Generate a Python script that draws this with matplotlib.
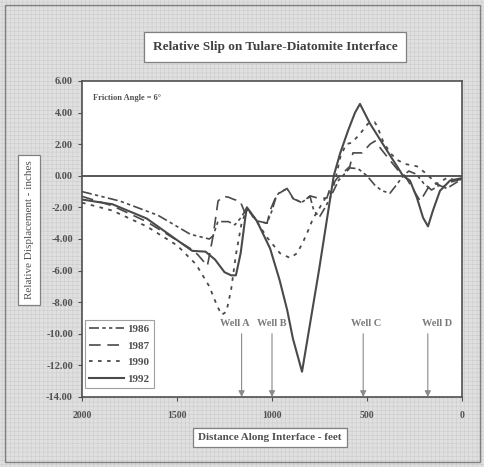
import matplotlib.pyplot as plt
from matplotlib.patches import Rectangle

plt.rcParams['font.family'] = ['Liberation Serif', 'DejaVu Serif']
plt.rcParams['hatch.linewidth'] = 0.4

# distance along interface (ft) and relative displacement (in)
x_1986 = [2000, 1800, 1600, 1430, 1330, 1310, 1285, 1230, 1195, 1160, 1132,
          1080, 1026, 1000, 980, 965, 920, 890, 845, 800, 780, 750, 720, 690,
          650, 590, 547, 500, 458, 421, 379, 340, 310, 280, 240, 200, 160,
          120, 80, 40, 0]
y_1986 = [-1.0, -1.6, -2.5, -3.7, -4.0, -3.8, -2.9, -2.9, -3.1, -2.6, -2.0,
          -2.85, -3.0, -2.2, -1.4, -1.1, -0.8, -1.4, -1.7, -1.3, -2.2, -2.6,
          -2.0, -1.3, -0.3, 0.5, 0.45, 0.0, -0.6, -0.95, -1.1, -0.5, 0.0, 0.3,
          0.1, -0.5, -0.9, -0.6, -0.8, -0.5, -0.2]

x_1987 = [2000, 1840, 1660, 1430, 1390, 1340, 1310, 1284, 1258, 1230, 1200,
          1168, 1142, 1132, 1080, 1026, 1010, 984, 968, 921, 889, 842, 800,
          747, 711, 695, 660, 616, 590, 574, 526, 484, 458, 420, 380, 340,
          300, 260, 220, 200, 170, 140, 100, 60, 0]
y_1987 = [-1.3, -1.9, -2.9, -4.6, -5.0, -5.7, -3.8, -1.6, -1.3, -1.35, -1.5,
          -1.6, -2.35, -2.1, -2.85, -3.0, -2.2, -1.45, -1.15, -0.8, -1.45,
          -1.7, -1.27, -1.45, -1.4, -0.8, -0.2, 0.3, 0.6, 1.45, 1.45, 2.0,
          2.2, 1.6, 1.0, 0.4, 0.0, -0.8, -1.6, -1.2, -0.6, -0.5, -0.7, -0.4,
          -0.2]

x_1990 = [2000, 1840, 1660, 1500, 1400, 1330, 1290, 1265, 1240, 1215, 1190,
          1160, 1132, 1080, 1026, 958, 905, 868, 837, 811, 784, 758, 721,
          684, 668, 640, 610, 579, 537, 495, 460, 447, 416, 379, 340, 300,
          237, 195, 132, 74, 37, 0]
y_1990 = [-1.7, -2.2, -3.2, -4.4, -5.6, -7.0, -8.2, -8.8, -8.6, -7.2, -5.0,
          -3.0, -2.1, -2.9, -3.9, -4.9, -5.2, -4.9, -4.2, -3.5, -2.7, -2.2,
          -1.45, -0.95, -0.3, 1.2, 2.0, 2.1, 2.65, 3.3, 3.4, 3.15, 2.2, 1.45,
          1.0, 0.75, 0.6, 0.2, -0.5, -0.1, -0.3, -0.2]

x_1992 = [2000, 1840, 1660, 1420, 1350, 1300, 1250, 1215, 1190, 1165, 1140,
          1132, 1080, 1010, 960, 920, 890, 842, 753, 675, 642, 600, 563, 537,
          484, 395, 326, 311, 274, 237, 205, 179, 153, 116, 63, 0]
y_1992 = [-1.5, -1.8, -2.7, -4.75, -4.8, -5.3, -6.1, -6.3, -6.3, -4.9, -2.6,
          -2.0, -2.85, -4.6, -6.6, -8.5, -10.3, -12.4, -6.0, 0.0, 1.4, 2.85,
          4.0, 4.55, 3.3, 1.6, 0.3, 0.0, -0.3, -1.4, -2.65, -3.2, -2.2, -0.95,
          -0.3, -0.15]

wells = ['Well A', 'Well B', 'Well C', 'Well D']
well_x = [1160, 1000, 520, 180]

yticks = [6, 4, 2, 0, -2, -4, -6, -8, -10, -12, -14]
xticks = [2000, 1500, 1000, 500, 0]

line_col = '#4a4a4a'
text_col = '#505050'

fig = plt.figure(figsize=(4.84, 4.67), dpi=100)
fig.patch.set_facecolor('#e0e0e0')
bg = Rectangle((0, 0), 1, 1, transform=fig.transFigure, facecolor='#e0e0e0',
               edgecolor='#cccccc', hatch='++++', lw=0, zorder=-10)
fig.patches.append(bg)
fig.patches.append(Rectangle((5 / 484, 1 - 462 / 467), 475 / 484, 457 / 467,
                             transform=fig.transFigure, fill=False,
                             edgecolor='#808080', lw=1.0))

ax = fig.add_axes([82 / 484, 1 - 397 / 467, 380 / 484, 316 / 467])
ax.set_facecolor('white')

ax.plot(x_1986, y_1986, color=line_col, lw=1.2, dashes=(6, 2, 2, 2, 2, 2), label='1986')
ax.plot(x_1987, y_1987, color=line_col, lw=1.2, dashes=(7, 4), label='1987')
ax.plot(x_1990, y_1990, color=line_col, lw=1.3, dashes=(2, 3), label='1990')
ax.plot(x_1992, y_1992, color=line_col, lw=1.5, label='1992')
ax.axhline(0, color=line_col, lw=1.3)

ax.set_xlim(2000, 0)
ax.set_ylim(-14, 6)
ax.set_yticks(yticks)
ax.set_yticklabels(['%.2f' % v for v in yticks])
ax.set_xticks(xticks)
ax.set_xticklabels([str(v) for v in xticks])
ax.tick_params(axis='both', colors=text_col, length=3, width=0.8, direction='out')
ax.tick_params(axis='y', labelsize=7.5)
ax.tick_params(axis='x', labelsize=7, pad=7)
for lab in ax.get_xticklabels() + ax.get_yticklabels():
    lab.set_fontweight('bold')
for sp in ax.spines.values():
    sp.set_color('#505050')
    sp.set_linewidth(1.2)

# label nudges (points) so neighbouring well names do not collide
nudges = [-5, 0, 2, 7]
for name, wx, dx in zip(wells, well_x, nudges):
    ax.annotate('', xy=(wx, -14), xytext=(wx, -10.0),
                arrowprops=dict(arrowstyle='-|>', color='#8a8a8a', lw=0.8,
                                mutation_scale=9, shrinkA=0, shrinkB=0))
    ax.annotate(name, xy=(wx, -9.35), xytext=(dx, 0), textcoords='offset points',
                ha='center', va='center', fontsize=7.5, fontweight='bold',
                color='#7a7a7a')

ax.text(0.028, 0.945, 'Friction Angle = 6°', transform=ax.transAxes, fontsize=6,
        fontweight='bold', color=text_col, va='center')

leg = ax.legend(loc='lower left', bbox_to_anchor=(0.008, 0.028), fontsize=8,
                frameon=True, fancybox=False, handlelength=3.1, handletextpad=0.3,
                labelspacing=0.6, borderpad=0.4, borderaxespad=0)
leg.get_frame().set_edgecolor('#888888')
leg.get_frame().set_linewidth(0.8)
for t in leg.get_texts():
    t.set_fontweight('bold')
    t.set_color(text_col)

fig.text(275 / 484, 1 - 47 / 467, 'Relative Slip on Tulare-Diatomite Interface',
         ha='center', va='center', fontsize=9.5, fontweight='bold', color='#404040',
         bbox=dict(boxstyle='square,pad=0.65', facecolor='white', edgecolor='#808080',
                   lw=0.9))
fig.text(29 / 484, 1 - 230 / 467, 'Relative Displacement - inches', rotation=90,
         ha='center', va='center', fontsize=8, color=text_col,
         bbox=dict(boxstyle='square,pad=0.55', facecolor='white', edgecolor='#808080',
                   lw=0.9))
fig.text(270 / 484, 1 - 437 / 467, 'Distance Along Interface - feet',
         ha='center', va='center', fontsize=8, fontweight='bold', color=text_col,
         bbox=dict(boxstyle='square,pad=0.45', facecolor='white', edgecolor='#808080',
                   lw=0.9))

fig.savefig('out.png', dpi=100, facecolor=fig.get_facecolor())
